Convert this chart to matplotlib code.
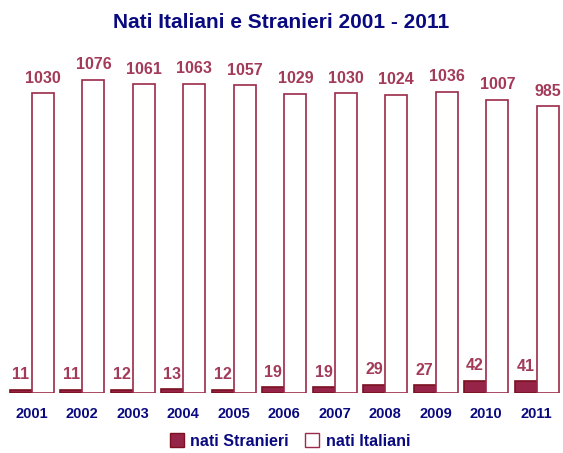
import numpy as np
import matplotlib
matplotlib.use("Agg")
import matplotlib.pyplot as plt
from matplotlib.patches import Patch

plt.rcParams['font.family'] = ['Liberation Sans', 'DejaVu Sans']

anni = ['2001', '2002', '2003', '2004', '2005', '2006', '2007', '2008', '2009', '2010', '2011']
nati_stranieri = [11, 11, 12, 13, 12, 19, 19, 29, 27, 42, 41]
nati_italiani = [1030, 1076, 1061, 1063, 1057, 1029, 1030, 1024, 1036, 1007, 985]

navy = '#0a0a80'
bordo = '#9c2a4a'
testo = '#a23a58'

fig = plt.figure(figsize=(5.63, 4.53), dpi=100)
# axes placed in pixel terms: baseline at y=393, left 4, right 562
ax = fig.add_axes([4 / 563, 60 / 453, 558 / 563, (393 - 60) / 453])

x = np.arange(len(anni))
w = 0.44
b1 = ax.bar(x - w / 2, nati_stranieri, w, color='#962348', edgecolor='#7a1020', linewidth=1.2)
b2 = ax.bar(x + w / 2, nati_italiani, w, color='white', edgecolor=bordo, linewidth=1.2)

for rect, v in zip(b1, nati_stranieri):
    ax.text(rect.get_x() + rect.get_width() / 2, v + 26, str(v), ha='center', va='bottom',
            fontsize=11.5, fontweight='bold', color=testo)
for rect, v in zip(b2, nati_italiani):
    ax.text(rect.get_x() + rect.get_width() / 2, v + 26, str(v), ha='center', va='bottom',
            fontsize=11.5, fontweight='bold', color=testo)

ax.set_xlim(-0.55, 10.5)
ax.set_ylim(0, (393 - 60) / 0.291)
ax.set_xticks(x)
ax.set_xticklabels(anni, fontsize=10.5, fontweight='bold', color=navy)
ax.tick_params(axis='x', length=0, pad=10)
ax.set_yticks([])
for s in ax.spines.values():
    s.set_visible(False)

fig.text(0.5, 1 - 23 / 453, 'Nati Italiani e Stranieri 2001 - 2011', ha='center', va='center',
         fontsize=15, fontweight='bold', color=navy)

handles = [Patch(facecolor='#962348', edgecolor='#7a1020', label='nati Stranieri'),
           Patch(facecolor='white', edgecolor=bordo, label='nati Italiani')]
leg = fig.legend(handles=handles, loc='center', bbox_to_anchor=(0.515, 1 - 441 / 453), ncol=2,
                 frameon=False, handlelength=0.9, handleheight=0.9, handletextpad=0.4,
                 columnspacing=1.0, prop={'size': 11.5, 'weight': 'bold'})
for t in leg.get_texts():
    t.set_color(navy)

fig.savefig('out.png', dpi=100)
